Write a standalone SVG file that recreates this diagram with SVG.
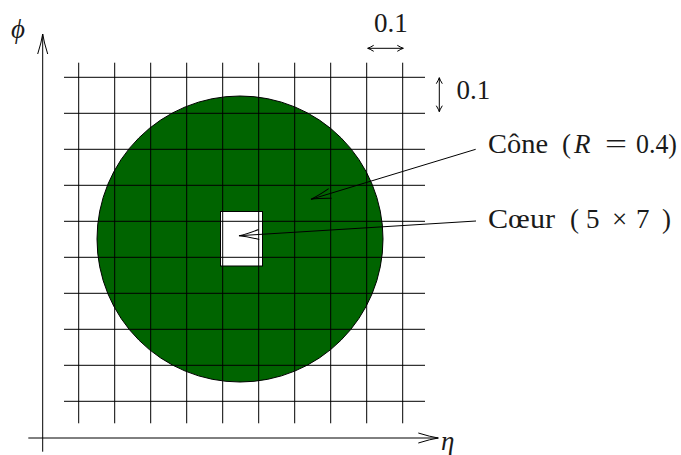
<svg xmlns="http://www.w3.org/2000/svg" width="681" height="455" viewBox="0 0 681 455">
<style>
  .grid line { stroke: #000; stroke-width: 1; }
  .ln { stroke: #000; stroke-width: 1; fill: none; }
  .lbl { font-family: 'Liberation Serif', serif; font-size: 27px; fill: #1a1a1a; }
  .it { font-style: italic; }
</style>
<defs>
  <marker id="ah" markerUnits="userSpaceOnUse" orient="auto" markerWidth="30" markerHeight="14" refX="0" refY="0" viewBox="-25 -7 30 14" overflow="visible">
    <path d="M-20,-5 Q-8,-1.2 0,0 Q-8,1.2 -20,5" fill="none" stroke="#000" stroke-width="1"/>
  </marker>
  <marker id="sh" markerUnits="userSpaceOnUse" orient="auto-start-reverse" markerWidth="12" markerHeight="10" refX="0" refY="0" viewBox="-8 -5 12 10" overflow="visible">
    <path d="M-6,-3 Q-2,-0.6 0,0 Q-2,0.6 -6,3" fill="none" stroke="#000" stroke-width="1"/>
  </marker>
</defs>

<g id="cone">
  <circle cx="240" cy="239" r="143" fill="#006400" stroke="#000" stroke-width="1"/>
</g>
<g id="coeur">
  <rect x="220.5" y="211.5" width="42" height="54.5" fill="#fff" stroke="#000" stroke-width="1"/>
</g>

<g id="grid" class="grid">
  <line x1="64" y1="77.3" x2="425" y2="77.3"/>
  <line x1="64" y1="113.3" x2="425" y2="113.3"/>
  <line x1="64" y1="149.3" x2="425" y2="149.3"/>
  <line x1="64" y1="185.3" x2="425" y2="185.3"/>
  <line x1="64" y1="221.3" x2="425" y2="221.3"/>
  <line x1="64" y1="257.3" x2="425" y2="257.3"/>
  <line x1="64" y1="293.3" x2="425" y2="293.3"/>
  <line x1="64" y1="329.3" x2="425" y2="329.3"/>
  <line x1="64" y1="365.3" x2="425" y2="365.3"/>
  <line x1="64" y1="401.3" x2="425" y2="401.3"/>
  <line x1="78.7" y1="62.7" x2="78.7" y2="423.3"/>
  <line x1="114.7" y1="62.7" x2="114.7" y2="423.3"/>
  <line x1="150.7" y1="62.7" x2="150.7" y2="423.3"/>
  <line x1="186.7" y1="62.7" x2="186.7" y2="423.3"/>
  <line x1="222.7" y1="62.7" x2="222.7" y2="423.3"/>
  <line x1="258.7" y1="62.7" x2="258.7" y2="423.3"/>
  <line x1="294.7" y1="62.7" x2="294.7" y2="423.3"/>
  <line x1="330.7" y1="62.7" x2="330.7" y2="423.3"/>
  <line x1="366.7" y1="62.7" x2="366.7" y2="423.3"/>
  <line x1="402.7" y1="62.7" x2="402.7" y2="423.3"/>
</g>

<g id="connectors">
  <line class="ln" x1="42.7" y1="451.7" x2="42.7" y2="34" marker-end="url(#ah)"/>
  <line class="ln" x1="28.3" y1="438" x2="438.3" y2="438" marker-end="url(#ah)"/>
  <line class="ln" x1="475.7" y1="149.3" x2="311" y2="199.3" marker-end="url(#ah)"/>
  <line class="ln" x1="476" y1="221" x2="239" y2="235.7" marker-end="url(#ah)"/>
  <line class="ln" x1="367.7" y1="48.3" x2="403.3" y2="48.3" marker-start="url(#sh)" marker-end="url(#sh)"/>
  <line class="ln" x1="439.3" y1="77.7" x2="439.3" y2="111.7" marker-start="url(#sh)" marker-end="url(#sh)"/>
</g>

<g id="labels" font-family="Liberation Serif, serif" font-size="27" fill="#1a1a1a">
  <text class="lbl it" x="11" y="38">ϕ</text>
  <text class="lbl it" x="441" y="450">η</text>
  <text class="lbl" x="374" y="31.7">0.1</text>
  <text class="lbl" x="456.5" y="99">0.1</text>
  <text class="lbl" y="153"><tspan x="562">(</tspan><tspan x="574" class="it">R</tspan><tspan x="605" textLength="22" lengthAdjust="spacingAndGlyphs">=</tspan><tspan x="636" textLength="41" lengthAdjust="spacingAndGlyphs">0.4)</tspan><tspan x="488" textLength="60" lengthAdjust="spacingAndGlyphs">Cône</tspan></text>
  <text class="lbl" y="227.5"><tspan x="488" textLength="67" lengthAdjust="spacingAndGlyphs">Cœur</tspan><tspan x="570">(</tspan><tspan x="586">5</tspan><tspan x="612">×</tspan><tspan x="636">7</tspan><tspan x="662">)</tspan></text>
</g>
</svg>
